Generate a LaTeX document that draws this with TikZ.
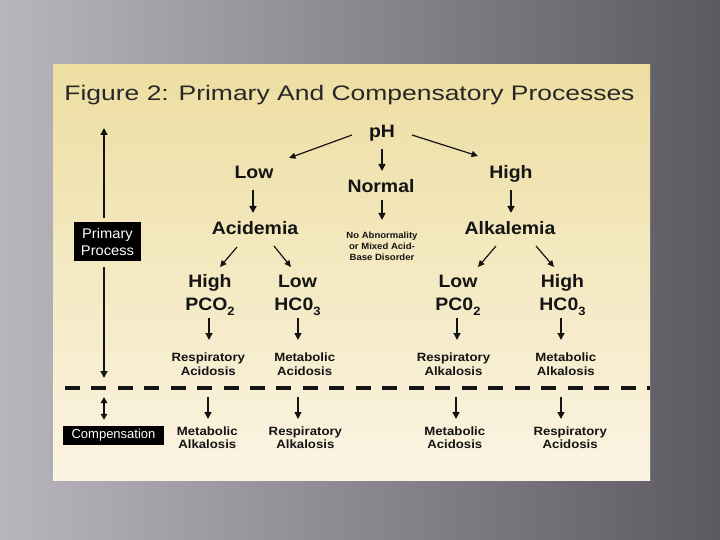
\documentclass[tikz,border=0pt]{standalone}
\usepackage{fontspec}
\setmainfont{Liberation Sans}
\usepackage{graphicx}
\usetikzlibrary{arrows.meta,calc}
\definecolor{bgL}{RGB}{184,182,188}
\definecolor{bgR}{RGB}{92,90,96}
\definecolor{panT}{RGB}{237,222,161}
\definecolor{panB}{RGB}{251,244,227}
\definecolor{ink}{RGB}{20,20,20}
\newcommand{\wx}[2]{\scalebox{#1}[1]{#2}}
\newcommand{\lowsub}[1]{\raisebox{-0.28em}{\fontsize{12}{12}\selectfont #1}}
\begin{document}
\begin{tikzpicture}[x=1pt,y=-1pt,
  lbl/.style={inner sep=0pt, text=ink, font=\fontsize{18}{22}\selectfont\bfseries},
  two/.style={inner sep=0pt, text=ink, align=center, font=\fontsize{18}{23}\selectfont\bfseries},
  mid/.style={inner sep=0pt, text=ink, align=center, font=\fontsize{12}{14.5}\selectfont\bfseries},
  cmp/.style={inner sep=0pt, text=ink, align=center, font=\fontsize{12}{13.5}\selectfont\bfseries},
  tiny/.style={inner sep=0pt, text=ink, align=center, font=\fontsize{9}{11}\selectfont\bfseries},
  blk/.style={fill=black, text=white, inner sep=0pt, align=center},
  arr/.style={draw=ink, line width=1.5pt, -{Triangle[length=7pt,width=7pt]}},
  darr/.style={draw=ink, line width=1.2pt, -{Triangle[length=6.5pt,width=6pt]}},
  dbl/.style={draw=ink, line width=1.5pt, {Triangle[length=6pt,width=6.5pt]}-{Triangle[length=6pt,width=6.5pt]}},
]
\useasboundingbox (0,0) rectangle (720,540);
\shade[left color=bgL, right color=bgR] (0,0) rectangle (720,540);
\shade[top color=panT, bottom color=panB] (53,65) rectangle (650,480);

% title
\node[inner sep=0pt, anchor=base, text=ink!92, font=\fontsize{21}{25}\selectfont] (title) at (349.5,100.3)
  {\wx{1.26}{Figure 2: Primary And Compensatory Processes}};

% top levels
\node[lbl, anchor=base] (ph) at (382,138) {\wx{1.08}{pH}};
\node[lbl, anchor=base] (low) at (254,178.8) {\wx{1.08}{Low}};
\node[lbl, anchor=base] (normal) at (381,192.7) {\wx{1.08}{Normal}};
\node[lbl, anchor=base] (high) at (511,178.8) {\wx{1.08}{High}};
\node[lbl, anchor=base] (acid) at (255,234.3) {\wx{1.08}{Acidemia}};
\node[lbl, anchor=base] (alk) at (510,234.3) {\wx{1.08}{Alkalemia}};
\node[tiny] (noab) at (382,246) {\wx{1.06}{No Abnormality}\\\wx{1.06}{or Mixed Acid-}\\\wx{1.06}{Base Disorder}};

\node[two] (hpco) at (210,295) {\wx{1.08}{High}\\\wx{1.08}{PCO\lowsub{2}}};
\node[two] (lhc) at (297.5,295) {\wx{1.08}{Low}\\\wx{1.08}{HC0\lowsub{3}}};
\node[two] (lpc) at (458,295) {\wx{1.08}{Low}\\\wx{1.08}{PC0\lowsub{2}}};
\node[two] (hhc) at (562.5,295) {\wx{1.08}{High}\\\wx{1.08}{HC0\lowsub{3}}};

\node[mid] (ra) at (208.3,364) {\wx{1.1}{Respiratory}\\\wx{1.1}{Acidosis}};
\node[mid] (ma) at (304.7,364) {\wx{1.1}{Metabolic}\\\wx{1.1}{Acidosis}};
\node[mid] (ralk) at (453.5,364) {\wx{1.1}{Respiratory}\\\wx{1.1}{Alkalosis}};
\node[mid] (malk) at (565.8,364) {\wx{1.1}{Metabolic}\\\wx{1.1}{Alkalosis}};

\node[cmp] (cma) at (207.3,437.5) {\wx{1.1}{Metabolic}\\\wx{1.1}{Alkalosis}};
\node[cmp] (cra) at (305.4,437.5) {\wx{1.1}{Respiratory}\\\wx{1.1}{Alkalosis}};
\node[cmp] (cmac) at (454.8,437.5) {\wx{1.1}{Metabolic}\\\wx{1.1}{Acidosis}};
\node[cmp] (crac) at (570.2,437.5) {\wx{1.1}{Respiratory}\\\wx{1.1}{Acidosis}};

% black boxes
\node[blk, minimum width=67pt, minimum height=39pt, font=\fontsize{14}{17}\selectfont] (pp) at (107.5,241.5)
  {\wx{1.05}{Primary}\\\wx{1.05}{Process}};
\node[blk, minimum width=101pt, minimum height=19pt, font=\fontsize{13}{15}\selectfont] (comp) at (113.5,435.5)
  {Compensation};

% arrows of the tree
\draw[darr] ($(ph.base)+(-30,-3)$) -- ($(low.base)+(35,-20.8)$);
\draw[darr] ($(ph.base)+(30,-3)$) -- ($(high.base)+(-33,-22.8)$);
\draw[arr] ($(ph.base)+(0,11)$) -- ($(normal.base)+(1,-21.7)$);
\draw[arr] ($(low.base)+(-1,11.2)$) -- ($(acid.base)+(-2,-21.3)$);
\draw[arr] ($(normal.base)+(1,7.3)$) -- ($(noab)+(0,-26)$);
\draw[arr] ($(high.base)+(0,11.2)$) -- ($(alk.base)+(1,-21.3)$);

\draw[darr] ($(acid.base)+(-18,12.7)$) -- ($(hpco)+(10,-28)$);
\draw[darr] ($(acid.base)+(19,11.7)$) -- ($(lhc)+(-6.5,-28)$);
\draw[darr] ($(alk.base)+(-14,11.7)$) -- ($(lpc)+(20,-28)$);
\draw[darr] ($(alk.base)+(26,11.7)$) -- ($(hhc)+(-8.5,-28)$);

\draw[arr] ($(hpco)+(-1,23)$) -- ($(ra)+(0.7,-24)$);
\draw[arr] ($(lhc)+(0.5,23)$) -- ($(ma)+(-6.7,-24)$);
\draw[arr] ($(lpc)+(-1,23)$) -- ($(ralk)+(3.5,-24)$);
\draw[arr] ($(hhc)+(-1.5,23)$) -- ($(malk)+(-4.8,-24)$);

% compensation arrows
\draw[arr] ($(cma)+(0.7,-40.5)$) -- ($(cma)+(0.7,-18.5)$);
\draw[arr] ($(cra)+(-7.4,-40.5)$) -- ($(cra)+(-7.4,-18.5)$);
\draw[arr] ($(cmac)+(1.2,-40.5)$) -- ($(cmac)+(1.2,-18.5)$);
\draw[arr] ($(crac)+(-9.2,-40.5)$) -- ($(crac)+(-9.2,-18.5)$);

% long vertical arrow
\coordinate (ptop) at (104,128);
\coordinate (pbot) at (104,378);
\coordinate (pn) at (pp.north -| ptop);
\coordinate (ps) at (pp.south -| pbot);
\draw[arr] ($(pn)+(0,-3.5)$) -- (ptop);
\draw[arr] ($(ps)+(0,6)$) -- (pbot);

% dashed divider
\coordinate (dl) at (64.7,388);
\coordinate (dr) at (650,388);
\draw[ink, line width=3.5pt, dash pattern=on 15pt off 11.47pt] (dl) -- (dr);

% double arrow
\coordinate (dtop) at (104,397);
\coordinate (dbot) at (comp.north -| dtop);
\draw[dbl] (dtop) -- ($(dbot)+(0,-6)$);
\end{tikzpicture}
\end{document}
